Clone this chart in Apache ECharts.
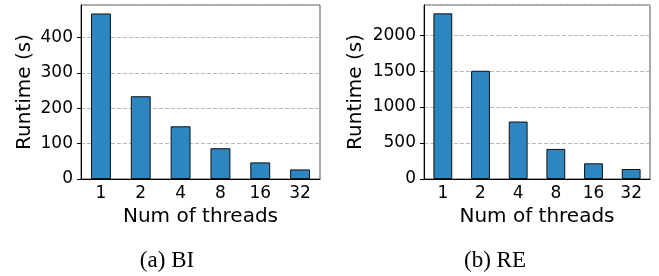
<!DOCTYPE html>
<html>
<head>
<meta charset="utf-8">
<script src="https://cdn.jsdelivr.net/npm/echarts@6/dist/echarts.min.js"></script>
<style>
  html, body { margin: 0; padding: 0; background: #fff; }
  #chart { width: 659px; height: 276px; }
</style>
</head>
<body>
<div id="chart"></div>
<script>
// 数据
const threads = ["1", "2", "4", "8", "16", "32"];
const runtimeBI = [468, 234, 149, 87, 47, 27];
const runtimeRE = [2303, 1505, 799, 418, 218, 139];
const yMaxBI = 492;
const yMaxRE = 2419;
const yStepBI = 100;
const yStepRE = 500;
const captions = ["(a) BI", "(b) RE"];

const tickFont = { fontFamily: "DejaVu Sans", fontSize: 17, color: "#000" };
const nameFont = { fontFamily: "DejaVu Sans", fontSize: 20, color: "#000" };

const mChart = echarts.init(document.getElementById("chart"), null, { renderer: "canvas" });

// 坐标轴配置
const makeX = (gridIndex) => ({
  type: "category",
  gridIndex,
  data: threads,
  boundaryGap: true,
  name: "Num of threads",
  nameLocation: "middle",
  nameGap: 27,
  nameTextStyle: nameFont,
  axisLine: { lineStyle: { color: "#000", width: 1 } },
  axisTick: { alignWithLabel: true, length: 4, lineStyle: { color: "#000" } },
  axisLabel: Object.assign({ margin: 6 }, tickFont),
  splitLine: { show: false },
});

const makeY = (gridIndex, max, step) => ({
  type: "value",
  gridIndex,
  min: 0,
  max,
  interval: step,
  name: "Runtime (s)",
  nameLocation: "middle",
  nameGap: gridIndex === 0 ? 46 : 58,
  nameTextStyle: nameFont,
  axisLine: { show: true, lineStyle: { color: "#000", width: 1 } },
  axisTick: { show: true, length: 4, lineStyle: { color: "#000" } },
  axisLabel: Object.assign({
    margin: 8,
    showMaxLabel: false,
    formatter: (v) => (v % step === 0 ? String(v) : ""),
  }, tickFont),
  splitLine: { show: true, lineStyle: { color: "#b8b8b8", width: 1, type: [4, 2] } },
});

const makeBar = (idx, data) => ({
  type: "bar",
  xAxisIndex: idx,
  yAxisIndex: idx,
  data,
  barWidth: "50%",
  itemStyle: { color: "#2e86c1", borderColor: "#111", borderWidth: 1 },
  silent: true,
});

const options = {
  animation: false,
  grid: [
    { left: 81, right: 339, top: 5, bottom: 97, show: true, borderColor: "#555", borderWidth: 1 },
    { left: 424, right: 9, top: 5, bottom: 97, show: true, borderColor: "#555", borderWidth: 1 },
  ],
  xAxis: [makeX(0), makeX(1)],
  yAxis: [makeY(0, yMaxBI, yStepBI), makeY(1, yMaxRE, yStepRE)],
  series: [makeBar(0, runtimeBI), makeBar(1, runtimeRE)],
  // 子图标题
  graphic: [
    { type: "text", x: 167, y: 261, style: { text: captions[0], font: "23px 'Liberation Serif'", fill: "#000", align: "center", verticalAlign: "middle" } },
    { type: "text", x: 495, y: 261, style: { text: captions[1], font: "23px 'Liberation Serif'", fill: "#000", align: "center", verticalAlign: "middle" } },
  ],
};
mChart.setOption(options);
</script>
</body>
</html>
